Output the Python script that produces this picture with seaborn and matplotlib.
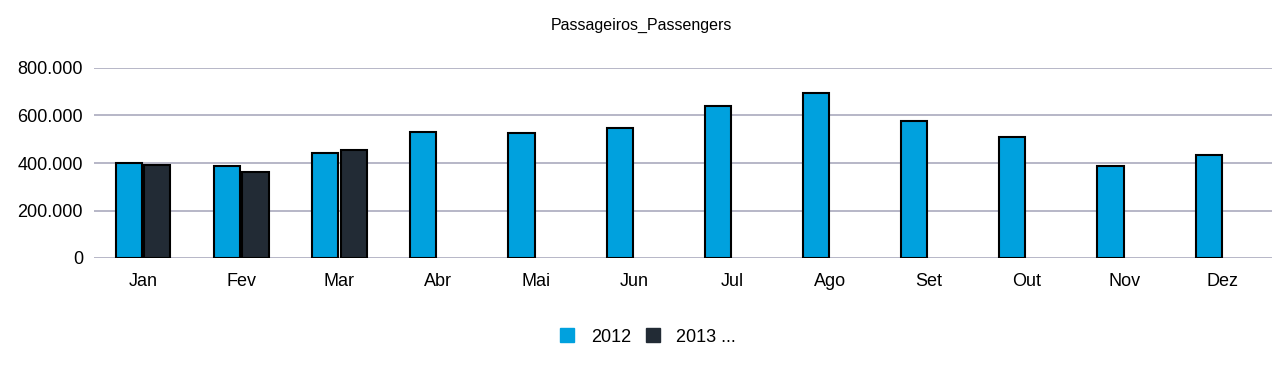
import pandas as pd
import numpy as np
import seaborn as sns
import matplotlib.pyplot as plt
from matplotlib.lines import Line2D
from matplotlib.ticker import FuncFormatter

# Mesi e valori
meses = ['Jan', 'Fev', 'Mar', 'Abr', 'Mai', 'Jun', 'Jul', 'Ago', 'Set', 'Out', 'Nov', 'Dez']
pax_2012 = [400000, 386000, 444000, 531000, 526000, 547000, 639000, 695000, 578000, 511000, 386000, 434000]
pax_2013 = [393000, 362000, 456000]
series = ['2012', '2013 ...']
cores = ['#00A1DE', '#222B35']

linhas = []
for m, v in zip(meses, pax_2012):
    linhas.append({'mes': m, 'ano': series[0], 'pax': v})
for m, v in zip(meses, pax_2013):
    linhas.append({'mes': m, 'ano': series[1], 'pax': v})
df = pd.DataFrame(linhas)

sns.set_style('white')
plt.rcParams['font.family'] = ['Liberation Sans', 'DejaVu Sans']
plt.rcParams['text.color'] = 'black'
plt.rcParams['xtick.color'] = 'black'
plt.rcParams['ytick.color'] = 'black'

fig = plt.figure(figsize=(12.81, 3.71), dpi=100)
ax = fig.add_axes([94 / 1281, (371 - 258) / 371, (1272 - 94) / 1281, 190 / 371])

sns.barplot(data=df, x='mes', y='pax', hue='ano', order=meses, hue_order=series,
            palette=cores, width=0.58, gap=0.08, edgecolor='black', linewidth=1.5,
            saturation=1, legend=False, ax=ax, zorder=3)

ax.set_ylim(0, 800000)
ax.set_xlim(-0.5, len(meses) - 0.5)
ax.set_yticks([0, 200000, 400000, 600000, 800000])
ax.yaxis.set_major_formatter(FuncFormatter(lambda v, p: f'{int(v):,}'.replace(',', '.')))
ax.grid(axis='y', color='#AAAABE', linewidth=1.2, zorder=0)
ax.set_axisbelow(True)
sns.despine(ax=ax, left=True, bottom=True)
ax.tick_params(axis='both', length=0, labelsize=13)
ax.tick_params(axis='x', pad=11)
ax.tick_params(axis='y', pad=8)
ax.set_xlabel('')
ax.set_ylabel('')

fig.text(641 / 1281, 1 - 25 / 371, 'Passageiros_Passengers', ha='center', va='center', fontsize=11.5)

handles = [Line2D([], [], marker='s', linestyle='', markersize=10, color=c) for c in cores]
fig.legend(handles, series, loc='center', bbox_to_anchor=(647 / 1281, 1 - 337 / 371),
           ncol=2, frameon=False, fontsize=13, handletextpad=0.8, columnspacing=0.7,
           handlelength=1.0)

fig.savefig('out.png', dpi=100)
